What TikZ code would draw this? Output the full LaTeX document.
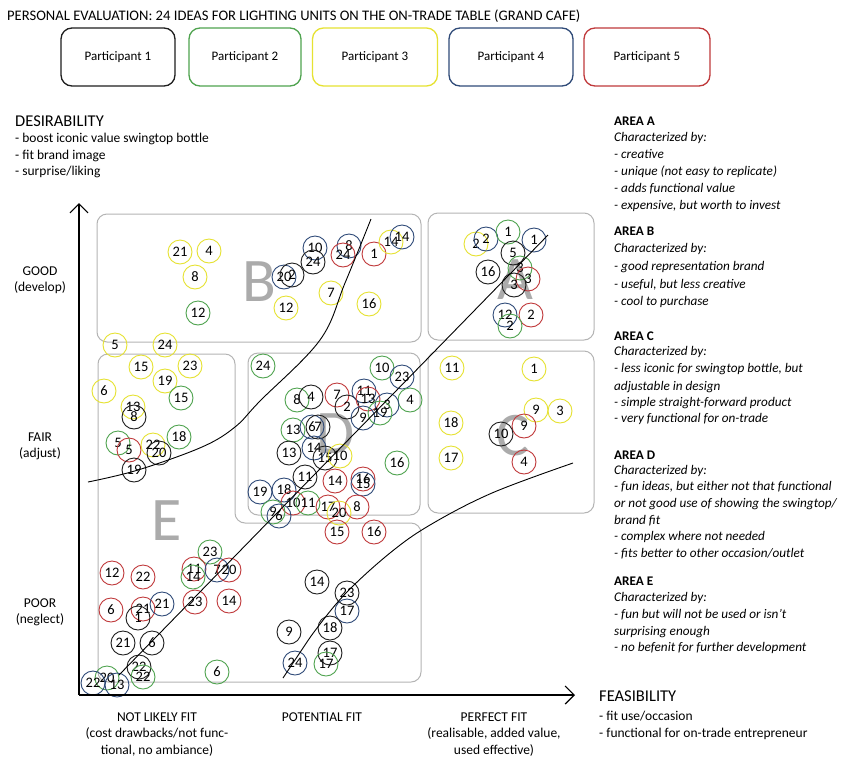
\documentclass[tikz,border=0pt]{standalone}
\usepackage{fontspec}
\setmainfont{Carlito}
\usetikzlibrary{arrows.meta}
\definecolor{cblk}{HTML}{1E1E1E}
\definecolor{cgrn}{HTML}{4FA34F}
\definecolor{cyel}{HTML}{E6E232}
\definecolor{cblu}{HTML}{2F4A78}
\definecolor{cred}{HTML}{C0393B}
\definecolor{areagray}{HTML}{B4B4B4}
\definecolor{lettergray}{HTML}{ABABAB}
\tikzset{
 num/.style={circle, draw, minimum size=24pt, inner sep=0pt, line width=0.9pt, font=\fontsize{14.5}{16}\selectfont},
 pbox/.style={draw, rounded corners=11pt, line width=1.3pt, minimum height=58pt, font=\fontsize{13}{15}\selectfont},
 areabox/.style={draw=areagray, line width=1pt, rounded corners=10pt},
 bigletter/.style={text=lettergray, font=\fontsize{62}{62}\selectfont, inner sep=0pt},
 curve/.style={line width=0.9pt, black},
 axis/.style={line width=1.2pt, -{Straight Barb[length=9pt,width=18pt]}},
 lab/.style={inner sep=0pt, text height=9pt, text depth=3pt, font=\fontsize{13.5}{16}\selectfont},
 rt/.style={anchor=west, inner sep=0pt, text height=9pt, text depth=3pt, font=\fontsize{13.2}{15}\selectfont\itshape},
}
\begin{document}
\begin{tikzpicture}[x=1pt,y=-1pt]
\useasboundingbox[fill=white] (0,0) rectangle (846,764);
% title
\node[anchor=west, inner sep=0pt, font=\fontsize{14.6}{16}\selectfont] (title) at (7,16) {PERSONAL EVALUATION: 24 IDEAS FOR LIGHTING UNITS ON THE ON-TRADE TABLE (GRAND CAFE)};
% participants
\node[pbox, draw=cblk, minimum width=114pt] (p1) at (118,57) {Participant 1};
\node[pbox, draw=cgrn, minimum width=112pt] (p2) at (245,57) {Participant 2};
\node[pbox, draw=cyel, minimum width=125pt] (p3) at (375,57) {Participant 3};
\node[pbox, draw=cblu, minimum width=124pt] (p4) at (511,57) {Participant 4};
\node[pbox, draw=cred, minimum width=126pt] (p5) at (647,57) {Participant 5};
% area boxes
\draw[areabox] (97,214) rectangle (421,342);
\draw[areabox] (428,213) rectangle (594,340);
\draw[areabox] (428,351) rectangle (594,513);
\draw[areabox] (248,353) rectangle (420,515);
\draw[areabox] (98,354) -- (235,354) -- (235,523) -- (421,523) -- (421,682) -- (98,682) -- cycle;
% big letters
\node[bigletter] (LA) at (515,280) {A};
\node[bigletter] (LB) at (259,282) {B};
\node[bigletter] (LC) at (513,436) {C};
\node[bigletter] (LD) at (336,434) {D};
\node[bigletter] (LE) at (167,521) {E};
% circles
\foreach \c/\x/\y/\t [count=\i] in {
 cyel/180/252/21, cyel/209/251/4, cyel/195/277/8, cgrn/198/313/12, cyel/115/345/5, cyel/165/345/24,
 cblu/315/248/10, cblk/313/262/24, cblu/284/277/20, cblk/292/275/2, cblu/349/246/8, cred/343/255/24,
 cred/374/254/1, cyel/391/242/14, cblu/402/237/14, cyel/331/293/7, cyel/286/308/12, cyel/369/304/16,
 cyel/476/244/2, cblu/486/239/2, cgrn/508/232/1, cblu/534/240/1, cblk/513/253/5, cblk/488/272/16,
 cgrn/520/268/3, cred/528/279/3, cblk/514/285/3, cblu/505/315/12, cred/531/315/2, cgrn/510/326/2,
 cyel/141/367/15, cyel/190/366/23, cyel/104/391/6, cyel/165/381/19, cgrn/181/398/15, cyel/133/407/13,
 cblk/134/417/8, cgrn/118/443/5, cred/129/450/5, cyel/153/445/22, cblk/159/453/20, cgrn/179/437/18,
 cblk/134/470/19,
 cgrn/263/366/24, cgrn/382/368/10, cblu/402/377/23, cgrn/410/400/4, cgrn/297/400/8, cblk/311/397/4,
 cred/337/395/7, cblk/347/407/2, cblu/364/391/11, cred/368/399/13, cblu/363/418/9, cblu/387/405/3,
 cgrn/380/413/19, cgrn/293/430/13, cblu/312/427/6, cblk/318/427/7, cblk/289/453/13, cblu/314/448/14,
 cblk/325/458/15, cyel/340/456/10, cgrn/397/463/16, cblk/305/477/11, cred/335/481/14, cred/363/479/16,
 cblu/363/484/15, cblu/260/492/19, cblu/284/490/18, cred/293/503/10, cgrn/308/503/11, cgrn/273/512/9,
 cblu/279/516/6, cred/328/507/17, cyel/339/513/20, cred/357/507/8, cred/337/532/15, cred/374/532/16,
 cyel/452/368/11, cyel/534/369/1, cyel/536/410/9, cyel/560/411/3, cyel/451/423/18, cred/524/426/9,
 cblk/501/434/10, cyel/451/458/17, cred/524/462/4,
 cgrn/210/552/23, cred/112/573/12, cred/143/577/22, cred/194/569/11, cgrn/193/577/14, cblu/217/570/7,
 cred/229/570/20, cred/111/610/6, cred/143/609/21, cblk/138/618/1, cblu/162/604/21, cred/195/602/23,
 cred/229/601/14, cblk/123/643/21, cblk/152/643/6, cblk/139/667/22, cgrn/143/677/22, cgrn/217/672/6,
 cgrn/107/678/20, cblu/93/683/22, cblu/117/685/13,
 cblk/317/582/14, cblk/347/593/23, cblu/347/611/17, cblk/289/632/9, cblk/330/628/18, cblk/330/653/17,
 cgrn/326/664/17, cblu/295/663/24}
 \node[num, draw=\c] (c\i) at (\x,\y) {\t};
% curves
\draw[curve] plot[smooth, tension=0.6] coordinates {(88,482) (138,470) (202,447) (235,427) (260,401) (320,340) (345,283) (371,219)};
\coordinate (dstart) at (119,675);
\coordinate (dend) at (548,235);
\draw[curve] (dstart) -- (dend);
\draw[curve] plot[smooth, tension=0.6] coordinates {(283,678) (297,657) (317,628) (347,592) (390,553) (430,525) (492,493) (573,463)};
% axes
\coordinate (O) at (79,695);
\coordinate (ytop) at (79,203);
\coordinate (xend) at (575,695);
\draw[axis] (O) -- (ytop);
\draw[axis] (O) -- (xend);
% y axis labels
\node[anchor=west, inner sep=0pt, text height=11pt, text depth=3pt, font=\fontsize{16.5}{18}\selectfont] (desir) at (15,122) {DESIRABILITY};
\node[lab, anchor=west] (d1) at (15,139) {- boost iconic value swingtop bottle};
\node[lab, anchor=west] (d2) at (15,156) {- fit brand image};
\node[lab, anchor=west] (d3) at (15,172) {- surprise/liking};
\node[lab] (g1) at (40,272) {GOOD};
\node[lab] (g2) at (40,288) {(develop)};
\node[lab] (f1) at (40,438) {FAIR};
\node[lab] (f2) at (40,454) {(adjust)};
\node[lab] (q1) at (40,604) {POOR};
\node[lab] (q2) at (40,620) {(neglect)};
% x axis labels
\node[anchor=west, inner sep=0pt, text height=11pt, text depth=3pt, font=\fontsize{16.5}{18}\selectfont] (feas) at (599,697) {FEASIBILITY};
\node[lab, anchor=west] (e1) at (599,717) {- fit use/occasion};
\node[lab, anchor=west] (e2) at (599,734) {- functional for on-trade entrepreneur};
\node[lab] (n1) at (157,718) {NOT LIKELY FIT};
\node[lab] (n2) at (157,734) {(cost drawbacks/not func-};
\node[lab] (n3) at (157,751) {tional, no ambiance)};
\node[lab] (m1) at (322,718) {POTENTIAL FIT};
\node[lab] (r1) at (494,718) {PERFECT FIT};
\node[lab] (r2) at (494,734) {(realisable, added value,};
\node[lab] (r3) at (494,751) {used effective)};
% right column
\foreach \y/\t [count=\i] in {
 122/{\normalfont\bfseries AREA A}, 138/{Characterized by:}, 155/{- creative}, 172/{- unique (not easy to replicate)},
 189/{- adds functional value}, 206/{- expensive, but worth to invest},
 232/{\normalfont\bfseries AREA B}, 249/{Characterized by:}, 267/{- good representation brand},
 285/{- useful, but less creative}, 302/{- cool to purchase},
 337/{\normalfont\bfseries AREA C}, 352/{Characterized by:}, 369/{- less iconic for swingtop bottle, but},
 387/{adjustable in design}, 403/{- simple straight-forward product}, 419/{- very functional for on-trade},
 456/{\normalfont\bfseries AREA D}, 471/{Characterized by:}, 487/{- fun ideas, but either not that functional},
 504/{or not good use of showing the swingtop/}, 521/{brand fit}, 537/{- complex where not needed},
 554/{- fits better to other occasion/outlet},
 582/{\normalfont\bfseries AREA E}, 598/{Characterized by:}, 615/{- fun but will not be used or isn't},
 632/{surprising enough}, 648/{- no befenit for further development}}
 \node[rt] (t\i) at (614,\y) {\t};
\end{tikzpicture}
\end{document}
